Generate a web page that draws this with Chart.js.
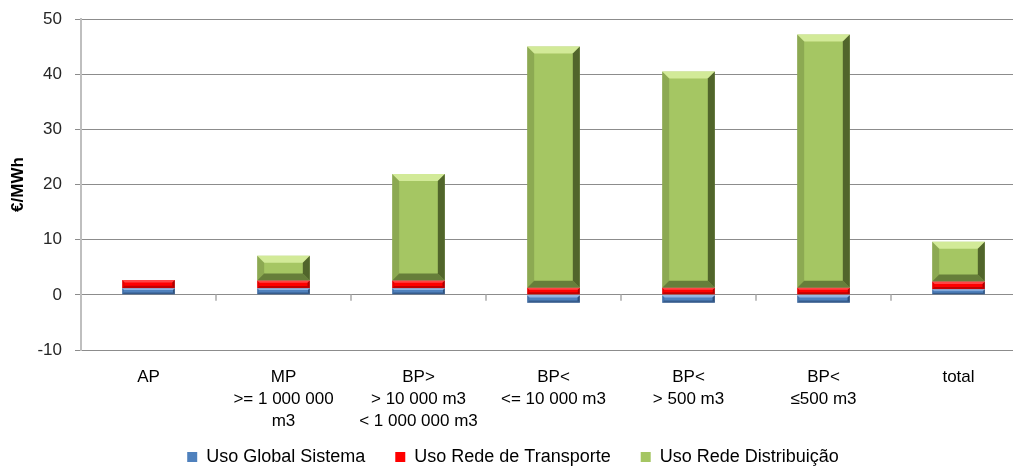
<!DOCTYPE html>
<html>
<head>
<meta charset="utf-8">
<script src="https://cdn.jsdelivr.net/npm/chart.js@4"></script>
<style>
  html, body { margin: 0; padding: 0; background: #fff; overflow: hidden; }
  #wrap { position: relative; width: 1040px; height: 466px; }
</style>
</head>
<body>
<div id="wrap"><canvas id="tarifChart"></canvas></div>
<script>
const categories = [
  ['AP'],
  ['MP', '>= 1 000 000', 'm3'],
  ['BP>', '> 10 000 m3', '< 1 000 000 m3'],
  ['BP<', '<= 10 000 m3'],
  ['BP<', '> 500 m3'],
  ['BP<', '\u2264500 m3'],
  ['total']
];
const seriesNames = ['Uso Global Sistema', 'Uso Rede de Transporte', 'Uso Rede Distribui\u00e7\u00e3o'];
const usoGlobal = [1.2, 1.2, 1.2, -1.45, -1.45, -1.45, 1.0];
const usoTransporte = [1.5, 1.4, 1.4, 1.3, 1.3, 1.3, 1.4];
const usoDistribuicao = [0, 4.5, 19.3, 43.7, 39.2, 45.9, 7.2];
const yTicks = { min: -10, max: 50, step: 10 };

const FONT = "'Liberation Sans', Arial, sans-serif";

// bevel look of the Excel bars: light top edge, dark right / bottom edges
const bevel = [
  { light: 'rgba(200,220,255,0.55)', dark: 'rgba(20,40,70,0.55)' },
  { light: 'rgba(255,150,150,0.45)', dark: 'rgba(90,0,0,0.5)' },
  { light: 'rgba(225,245,170,0.75)', dark: 'rgba(45,60,20,0.7)' }
];

const bevelPlugin = {
  id: 'bevel',
  afterDatasetsDraw(chart) {
    const ctx = chart.ctx;
    chart.data.datasets.forEach((ds, di) => {
      const meta = chart.getDatasetMeta(di);
      meta.data.forEach((bar) => {
        const l = bar.x - bar.width / 2;
        const r = bar.x + bar.width / 2;
        const t = Math.min(bar.y, bar.base);
        const b = Math.max(bar.y, bar.base);
        const h = b - t;
        if (h < 1) return;
        const e = Math.min(7, h * 0.3);
        const c = bevel[di];
        ctx.save();
        // top
        ctx.fillStyle = c.light;
        ctx.beginPath();
        ctx.moveTo(l, t); ctx.lineTo(r, t); ctx.lineTo(r - e, t + e); ctx.lineTo(l + e, t + e);
        ctx.closePath(); ctx.fill();
        // right
        ctx.fillStyle = c.dark;
        ctx.beginPath();
        ctx.moveTo(r, t); ctx.lineTo(r, b); ctx.lineTo(r - e, b - e); ctx.lineTo(r - e, t + e);
        ctx.closePath(); ctx.fill();
        // bottom
        ctx.globalAlpha = 0.75;
        ctx.beginPath();
        ctx.moveTo(l, b); ctx.lineTo(r, b); ctx.lineTo(r - e, b - e); ctx.lineTo(l + e, b - e);
        ctx.closePath(); ctx.fill();
        // left
        ctx.globalAlpha = 0.3;
        ctx.beginPath();
        ctx.moveTo(l, t); ctx.lineTo(l, b); ctx.lineTo(l + e, b - e); ctx.lineTo(l + e, t + e);
        ctx.closePath(); ctx.fill();
        ctx.restore();
      });
    });
  }
};

// small category tick marks hanging below the zero line
const zeroTicks = {
  id: 'zeroTicks',
  beforeDatasetsDraw(chart) {
    const { ctx, scales: { x, y } } = chart;
    const y0 = y.getPixelForValue(0);
    const step = (x.right - x.left) / categories.length;
    ctx.save();
    ctx.strokeStyle = '#bfbfbf';
    ctx.lineWidth = 2;
    for (let i = 1; i < categories.length; i++) {
      const px = Math.round(x.left + i * step);
      ctx.beginPath();
      ctx.moveTo(px, y0);
      ctx.lineTo(px, y0 + 6);
      ctx.stroke();
    }
    ctx.restore();
  }
};

// legend: short box in the layout, then placed so its row sits near the bottom edge
const legendTweak = {
  id: 'legendTweak',
  beforeLayout(chart) {
    const lg = chart.legend;
    if (!lg || lg._tweaked) return;
    const fit = lg.fit;
    lg.fit = function () {
      fit.call(this);
      this.height = 34;
    };
    lg._tweaked = true;
  },
  afterLayout(chart) {
    const lg = chart.legend;
    if (!lg) return;
    lg.top = 418;
    lg.bottom = chart.height;
  }
};

new Chart(document.getElementById('tarifChart'), {
  type: 'bar',
  data: {
    labels: categories,
    datasets: [
      { label: seriesNames[0], data: usoGlobal, backgroundColor: '#4f81bd' },
      { label: seriesNames[1], data: usoTransporte, backgroundColor: '#ff0000' },
      { label: seriesNames[2], data: usoDistribuicao, backgroundColor: '#a5c663' }
    ]
  },
  options: {
    responsive: true,
    maintainAspectRatio: false,
    animation: false,
    layout: { padding: { top: 0, right: 14, bottom: 0, left: 0 } },
    datasets: {
      bar: { categoryPercentage: 1, barPercentage: 0.39, borderWidth: 0 }
    },
    scales: {
      x: {
        stacked: true,
        grid: { display: false },
        border: { display: false },
        afterFit: (scale) => { scale.height = 82; },
        ticks: {
          color: '#000',
          padding: 8,
          maxRotation: 0,
          autoSkip: false,
          font: { family: FONT, size: 17, lineHeight: 1.3 }
        }
      },
      y: {
        stacked: true,
        min: yTicks.min,
        max: yTicks.max,
        afterFit: (scale) => { scale.width = 81; scale.paddingTop = 19; },
        ticks: {
          stepSize: yTicks.step,
          color: '#262626',
          padding: 13,
          font: { family: FONT, size: 17 }
        },
        grid: { color: '#8c8c8c', lineWidth: 1, tickLength: 6 },
        border: { color: '#bfbfbf', width: 2 },
        title: {
          display: true,
          text: '\u20ac/MWh',
          color: '#000',
          padding: { top: 8, bottom: 0 },
          font: { family: FONT, size: 17, weight: 'bold' }
        }
      }
    },
    plugins: {
      legend: {
        position: 'bottom',
        labels: {
          color: '#000',
          boxWidth: 10,
          boxHeight: 10,
          padding: 30,
          font: { family: FONT, size: 18 }
        }
      },
      tooltip: { enabled: false }
    }
  },
  plugins: [zeroTicks, bevelPlugin, legendTweak]
});
</script>
</body>
</html>
